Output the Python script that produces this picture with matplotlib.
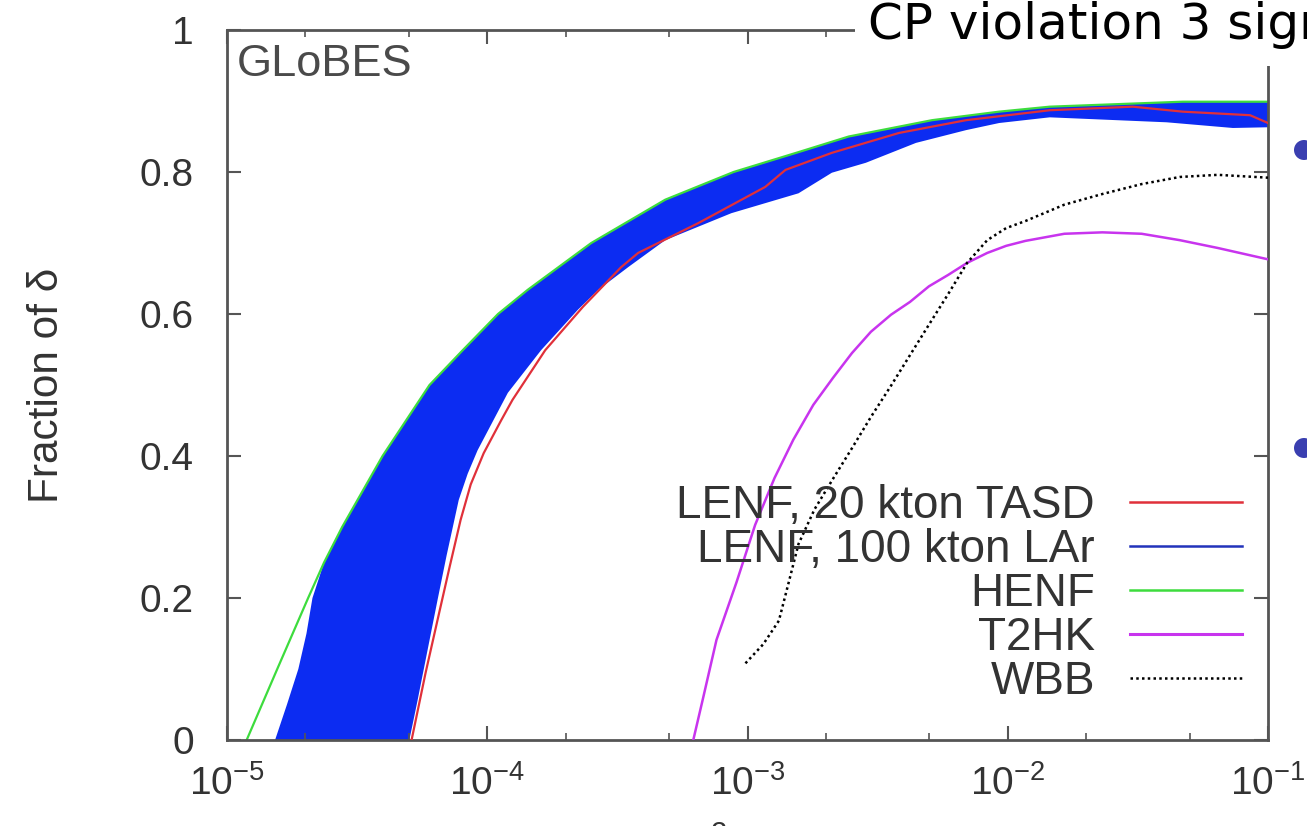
import numpy as np
import matplotlib
matplotlib.use("Agg")
import matplotlib.pyplot as plt
from matplotlib.lines import Line2D
from matplotlib.patches import Rectangle, Ellipse
import matplotlib.ticker as mticker

plt.rcParams['font.family'] = ['Liberation Sans', 'DejaVu Sans']
plt.rcParams['mathtext.fontset'] = 'custom'
plt.rcParams['mathtext.rm'] = 'Liberation Sans'
plt.rcParams['mathtext.it'] = 'Liberation Sans:italic'
plt.rcParams['mathtext.bf'] = 'Liberation Sans:bold'

# ---------------- data ----------------
# HENF (green)
henf_x = [1.19e-5, 1.56e-5, 2.05e-5, 2.36e-5, 2.77e-5, 3.96e-5, 6.00e-5, 8.05e-5,
          1.10e-4, 1.43e-4, 2.51e-4, 4.83e-4, 8.84e-4, 1.57e-3, 2.45e-3, 5.12e-3,
          9.27e-3, 1.45e-2, 4.70e-2, 1.0e-1]
henf_y = [0.0, 0.1, 0.2, 0.25, 0.3, 0.4, 0.5, 0.549,
          0.6, 0.634, 0.7, 0.761, 0.8, 0.828, 0.85, 0.873,
          0.885, 0.892, 0.899, 0.899]

# LENF 100 kton LAr band: lower-left start of the upper edge, then it follows HENF
lar_left_x = [1.53e-5, 1.70e-5, 1.88e-5, 2.02e-5, 2.13e-5]
lar_left_y = [0.0, 0.05, 0.1, 0.15, 0.2]
# lower / right edge of the band
lar_lower_x = [5.02e-5, 5.40e-5, 5.90e-5, 6.44e-5, 6.98e-5, 7.77e-5, 8.41e-5, 9.18e-5,
               1.20e-4, 1.61e-4, 2.23e-4, 2.67e-4, 3.48e-4, 4.83e-4, 8.67e-4, 1.57e-3,
               2.11e-3, 2.85e-3, 4.44e-3, 6.92e-3, 9.27e-3, 1.45e-2, 4.08e-2, 7.33e-2,
               1.0e-1]
lar_lower_y = [0.0, 0.056, 0.127, 0.197, 0.26, 0.338, 0.375, 0.408,
               0.489, 0.549, 0.606, 0.634, 0.666, 0.704, 0.742, 0.770,
               0.799, 0.813, 0.841, 0.859, 0.869, 0.877, 0.870, 0.862,
               0.863]

# LENF 20 kton TASD (red)
tasd_x = [5.12e-5, 5.79e-5, 6.45e-5, 7.17e-5, 7.90e-5, 8.64e-5, 9.69e-5, 1.13e-4,
          1.25e-4, 1.67e-4, 2.33e-4, 3.27e-4, 3.80e-4, 6.47e-4, 1.17e-3, 1.40e-3,
          2.11e-3, 3.82e-3, 6.92e-3, 1.45e-2, 3.02e-2, 4.70e-2, 8.53e-2, 1.0e-1]
tasd_y = [0.0, 0.094, 0.17, 0.244, 0.31, 0.36, 0.404, 0.45,
          0.479, 0.549, 0.61, 0.666, 0.686, 0.728, 0.779, 0.803,
          0.827, 0.855, 0.873, 0.887, 0.892, 0.885, 0.880, 0.869]

# T2HK (magenta)
t2hk_x = [6.19e-4, 6.76e-4, 7.60e-4, 9.07e-4, 1.07e-3, 1.27e-3, 1.50e-3, 1.79e-3,
          2.13e-3, 2.52e-3, 2.98e-3, 3.56e-3, 4.21e-3, 4.98e-3, 5.90e-3, 6.98e-3,
          8.34e-3, 9.86e-3, 1.17e-2, 1.65e-2, 2.31e-2, 3.27e-2, 4.58e-2, 6.41e-2, 1.0e-1]
t2hk_y = [0.0, 0.06, 0.141, 0.222, 0.303, 0.369, 0.423, 0.472,
          0.510, 0.545, 0.575, 0.599, 0.617, 0.639, 0.655, 0.672,
          0.686, 0.696, 0.703, 0.713, 0.715, 0.713, 0.704, 0.693, 0.677]

# WBB (black dotted)
wbb_x = [9.82e-4, 1.15e-3, 1.32e-3, 1.44e-3, 1.57e-3, 1.81e-3, 2.14e-3, 2.52e-3,
         2.98e-3, 3.56e-3, 4.21e-3, 4.98e-3, 5.90e-3, 6.98e-3, 8.34e-3, 9.86e-3,
         1.17e-2, 1.65e-2, 2.31e-2, 3.27e-2, 4.58e-2, 6.41e-2, 1.0e-1]
wbb_y = [0.108, 0.135, 0.168, 0.222, 0.276, 0.325, 0.369, 0.411,
         0.455, 0.499, 0.542, 0.585, 0.628, 0.672, 0.704, 0.721,
         0.731, 0.754, 0.769, 0.783, 0.793, 0.796, 0.792]

legend_labels = ["LENF, 20 kton TASD", "LENF, 100 kton LAr", "HENF", "T2HK", "WBB"]
y_ticks = [0, 0.2, 0.4, 0.6, 0.8, 1]
y_tick_labels = ["0", "0.2", "0.4", "0.6", "0.8", "1"]
x_ticks = [1e-5, 1e-4, 1e-3, 1e-2, 1e-1]

# ---------------- figure ----------------
W, H = 1307, 826
fig = plt.figure(figsize=(W / 100, H / 100), dpi=100)
fig.patch.set_facecolor('white')
ax = fig.add_axes([227 / W, 1 - 740 / H, (1268 - 227) / W, (740 - 30) / H])

BLUE = '#0c2cf2'
RED = '#e0303a'
GREEN = '#3ddc3d'
MAG = '#c834ee'

henf_xa = np.array(henf_x)
henf_ya = np.array(henf_y)
keep = henf_xa >= 2.3e-5
band_up_x = np.concatenate([lar_left_x, henf_xa[keep]])
band_up_y = np.concatenate([lar_left_y, henf_ya[keep]])
poly_x = np.concatenate([band_up_x, np.array(lar_lower_x)[::-1]])
poly_y = np.concatenate([band_up_y, np.array(lar_lower_y)[::-1]])
ax.fill(poly_x, poly_y, color=BLUE, lw=0, zorder=1)

ax.plot(henf_x, henf_y, color=GREEN, lw=1.6, zorder=2)
ax.plot(tasd_x, tasd_y, color=RED, lw=1.6, zorder=3)
ax.plot(t2hk_x, t2hk_y, color=MAG, lw=1.8, zorder=3)
ax.plot(wbb_x, wbb_y, color='black', lw=1.8, ls=(0, (1, 1.3)), zorder=4)

ax.set_xscale('log')
ax.set_xlim(1e-5, 1e-1)
ax.set_ylim(0, 1)
ax.set_xticks(x_ticks)
ax.xaxis.set_minor_locator(mticker.LogLocator(base=10, subs=(2.0, 5.0)))
ax.xaxis.set_minor_formatter(mticker.NullFormatter())
ax.set_yticks(y_ticks)
ax.set_yticklabels(y_tick_labels)

for s in ax.spines.values():
    s.set_color('#555555')
    s.set_linewidth(2)
ax.tick_params(which='both', direction='in', top=True, right=True, color='#555555',
               labelcolor='#333333')
ax.tick_params(which='major', length=10, width=1.5)
ax.tick_params(which='minor', length=5, width=1.2)
ax.tick_params(axis='y', labelsize=28, pad=24)
ax.tick_params(axis='x', labelsize=28, pad=18)

ax.text(0.009, 0.952, "GLoBES", transform=ax.transAxes, fontsize=32.5,
        color='#4a4a4a', ha='left', va='center', zorder=5)

ax.set_ylabel("Fraction of δ", fontsize=30.5, color='#333333')
ax.yaxis.set_label_coords((67 - 227) / (1268 - 227), 0.5)

# legend (gnuplot style: text left of sample, right aligned)
handles = [Line2D([], [], color=RED, lw=1.8),
           Line2D([], [], color='#2233bb', lw=1.8),
           Line2D([], [], color=GREEN, lw=1.8),
           Line2D([], [], color=MAG, lw=2.2),
           Line2D([], [], color='black', lw=1.8, ls=(0, (1, 1.3)))]
leg = ax.legend(handles, legend_labels, loc='lower right',
                bbox_to_anchor=((1242 - 227) / 1041, (740 - 704) / 710),
                markerfirst=False, frameon=False, fontsize=33,
                handlelength=2.45, handletextpad=0.76, labelspacing=0.0,
                borderpad=0, borderaxespad=0)
for t in leg.get_texts():
    t.set_color('#333333')

# x label, cut at the bottom edge of the slide
fig.text(735 / W, (H - 821) / H, r"$\sin^22\theta_{13}$", fontsize=30, ha='center', va='top',
         color='#333333')

# slide overlay: white box with title covering the top right
fig.add_artist(Rectangle((855 / W, 1 - 66 / H), 1 - 855 / W, 66 / H,
                         transform=fig.transFigure, facecolor='white', edgecolor='none',
                         zorder=10))
fig.text(868 / W, 1 - 39 / H, "CP violation 3 sigma", fontsize=36, family='DejaVu Sans',
         color='black', ha='left', va='baseline', zorder=11)
for yy in (150, 448):
    fig.add_artist(Ellipse((1304 / W, 1 - yy / H), 20 / W, 20 / H,
                           transform=fig.transFigure, facecolor='#3a3fb0',
                           edgecolor='none', zorder=11))

fig.savefig("out.png", dpi=100)
